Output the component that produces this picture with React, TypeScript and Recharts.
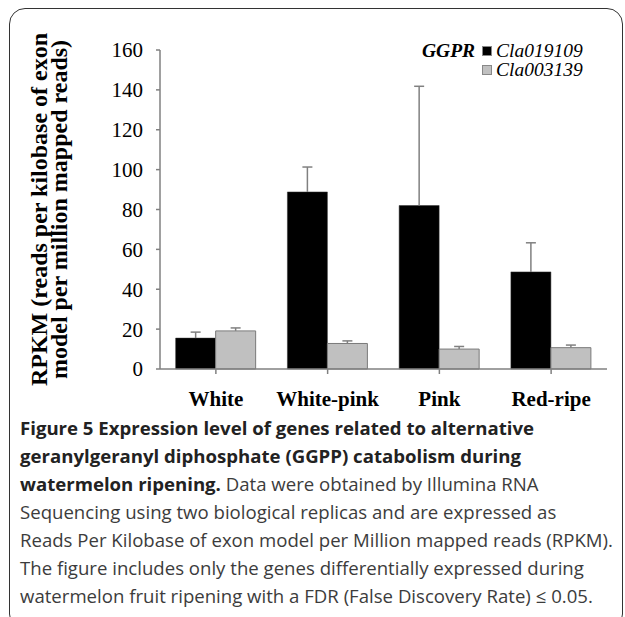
import React from 'react';
import { BarChart, Bar, XAxis, YAxis, Legend, ErrorBar } from 'recharts';

// ripening stages and RPKM values for the two GGPR genes
const stages = ['White', 'White-pink', 'Pink', 'Red-ripe'];
const cla019109 = [15.5, 88.8, 82.0, 48.7];
const cla019109Err = [3.0, 12.5, 59.8, 14.6];
const cla003139 = [19.1, 12.8, 10.0, 10.7];
const cla003139Err = [1.5, 1.3, 1.3, 1.3];
const yTicks = [0, 20, 40, 60, 80, 100, 120, 140, 160];
const geneOrder = ['Cla019109', 'Cla003139'];

const data = stages.map((stage, i) => ({
  stage,
  a: cla019109[i],
  aErr: [0, cla019109Err[i]],
  b: cla003139[i],
  bErr: [0, cla003139Err[i]],
}));

const serif = '"Liberation Serif", "Times New Roman", serif';

const YLabel = ({ viewBox }: any) => {
  const cy = viewBox.y + viewBox.height / 2;
  const x1 = viewBox.x - 41;
  const x2 = viewBox.x - 21;
  return (
    <g fontFamily={serif} fontWeight="bold" fontSize={24} fill="#000">
      <text x={x1} y={cy} textAnchor="middle" dominantBaseline="central" transform={`rotate(-90 ${x1} ${cy})`}>
        RPKM (reads per kilobase of exon
      </text>
      <text x={x2} y={cy} textAnchor="middle" dominantBaseline="central" transform={`rotate(-90 ${x2} ${cy})`}>
        model per million mapped reads)
      </text>
    </g>
  );
};

const GeneLegend = ({ payload }: any) => {
  const items = geneOrder
    .map((name) => (payload || []).find((p: any) => p.value === name))
    .filter(Boolean);
  return (
    <div style={{ fontFamily: serif, fontStyle: 'italic', fontSize: 19.5, lineHeight: '20px' }}>
      {items.map((entry: any, i: number) => (
        <div key={entry.value} style={{ display: 'flex', alignItems: 'center', height: 19 }}>
          <span style={{ fontWeight: 'bold', width: 60, visibility: i === 0 ? 'visible' : 'hidden' }}>GGPR</span>
          <span
            style={{
              display: 'inline-block',
              width: 8,
              height: 8,
              background: entry.color,
              border: '1px solid #888',
              marginRight: 4,
            }}
          />
          <span>{entry.value}</span>
        </div>
      ))}
    </div>
  );
};

const boldCaption = ['Figure 5 Expression level of genes related to alternative', 'geranylgeranyl diphosphate (GGPP) catabolism during'];
const captionLines = [
  'Sequencing using two biological replicas and are expressed as',
  'Reads Per Kilobase of exon model per Million mapped reads (RPKM).',
  'The figure includes only the genes differentially expressed during',
  'watermelon fruit ripening with a FDR (False Discovery Rate) \u2264 0.05.',
];

export default function App() {
  return (
    <div style={{ position: 'absolute', left: 0, top: 0, width: 625, height: 617, overflow: 'hidden', background: '#fff' }}>
      <style>{'.recharts-errorBar line:nth-of-type(3){display:none}'}</style>
      <div
        style={{
          position: 'absolute',
          left: 9,
          top: 8,
          width: 612,
          height: 620,
          border: '1.5px solid #333',
          borderRadius: 16,
        }}
      />
      <div style={{ position: 'absolute', left: 0, top: 0 }}>
        <BarChart
          width={625}
          height={420}
          data={data}
          margin={{ top: 50, right: 18, bottom: 11, left: 80 }}
          barCategoryGap="14%"
          barGap={0}
        >
          <XAxis
            dataKey="stage"
            height={40}
            interval={0}
            stroke="#808080"
            strokeWidth={1.5}
            tickSize={5}
            tickMargin={17}
            tick={{ fill: '#000', fontFamily: serif, fontWeight: 'bold', fontSize: 21 }}
          />
          <YAxis
            width={80}
            domain={[0, 160]}
            ticks={yTicks}
            stroke="#808080"
            strokeWidth={1.5}
            tickSize={4}
            tickMargin={13}
            tick={{ fill: '#000', fontFamily: serif, fontSize: 21 }}
            label={<YLabel />}
          />
          <Legend
            verticalAlign="middle"
            align="center"
            layout="vertical"
            wrapperStyle={{ top: 41, left: 422, width: 200 }}
            content={<GeneLegend />}
          />
          <Bar dataKey="a" name="Cla019109" fill="#000" stroke="#333" strokeWidth={0.5} isAnimationActive={false}>
            <ErrorBar dataKey="aErr" width={5} stroke="#808080" strokeWidth={1.5} isAnimationActive={false} />
          </Bar>
          <Bar dataKey="b" name="Cla003139" fill="#c0c0c0" stroke="#7a7a7a" strokeWidth={1} isAnimationActive={false}>
            <ErrorBar dataKey="bErr" width={5} stroke="#808080" strokeWidth={1.5} isAnimationActive={false} />
          </Bar>
        </BarChart>
      </div>
      <div
        style={{
          position: 'absolute',
          left: 20,
          top: 414,
          fontFamily: '"Open Sans", sans-serif',
          fontSize: 18.6,
          lineHeight: '28px',
          color: '#3c3c3c',
          whiteSpace: 'nowrap',
        }}
      >
        {boldCaption.map((line) => (
          <div key={line} style={{ fontWeight: 'bold', color: '#222' }}>{line}</div>
        ))}
        <div>
          <span style={{ fontWeight: 'bold', color: '#222' }}>watermelon ripening.</span> Data were obtained by Illumina RNA
        </div>
        {captionLines.map((line) => (
          <div key={line}>{line}</div>
        ))}
      </div>
    </div>
  );
}
